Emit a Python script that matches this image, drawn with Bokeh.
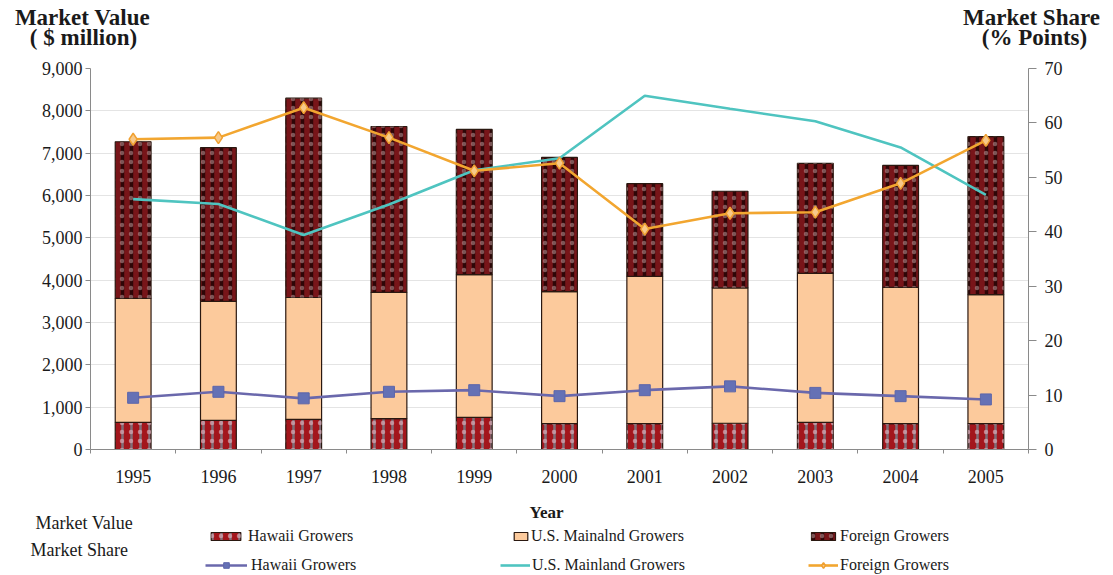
import numpy as np
from bokeh.plotting import figure
from bokeh.models import (Range1d, LinearAxis, FixedTicker, Label, Legend, LegendItem,
                          NumeralTickFormatter)
from bokeh.embed import file_html
from bokeh.resources import INLINE

# ---------------- data ----------------
years = ["1995", "1996", "1997", "1998", "1999", "2000", "2001", "2002", "2003", "2004", "2005"]
hawaii_value = [640, 690, 710, 730, 760, 610, 610, 620, 640, 610, 610]
mainland_value = [2930, 2810, 2880, 2980, 3370, 3120, 3480, 3200, 3520, 3220, 3050]
foreign_value = [3700, 3630, 4710, 3920, 3430, 3170, 2190, 2280, 2600, 2880, 3730]

hawaii_share = [9.5, 10.6, 9.4, 10.6, 10.9, 9.8, 10.9, 11.6, 10.4, 9.8, 9.2]
mainland_share = [46.0, 45.1, 39.4, 45.0, 51.3, 53.5, 65.0, 62.6, 60.3, 55.5, 46.8]
foreign_share = [57.0, 57.3, 62.8, 57.3, 51.2, 52.6, 40.5, 43.4, 43.6, 48.9, 56.8]

value_ticks = [0, 1000, 2000, 3000, 4000, 5000, 6000, 7000, 8000, 9000]
share_ticks = [0, 10, 20, 30, 40, 50, 60, 70]

# ---------------- derived ----------------
n = len(years)
xc = np.arange(n) + 0.5
b1 = np.zeros(n)
t1 = b1 + np.array(hawaii_value)
t2 = t1 + np.array(mainland_value)
t3 = t2 + np.array(foreign_value)

SERIF = "Liberation Serif"
TXT = "#1a1a1a"
TOTAL_W = 1105

# ---------------- styles ----------------
W = 0.42
OUT = "#2a1810"
haw_a = dict(fill_color="#a3161c", line_color=OUT, line_width=1.2,
             hatch_pattern="vertical_line", hatch_color="#7e6e78", hatch_scale=9, hatch_weight=2.5)
haw_b = dict(fill_alpha=0, line_color=None,
             hatch_pattern="dot", hatch_color="#d7a9b6", hatch_scale=9, hatch_weight=1.5, hatch_alpha=0.7)
main_s = dict(fill_color="#fcca9c", line_color=OUT, line_width=1.2)
for_a = dict(fill_color="#781519", line_color=OUT, line_width=1.2,
             hatch_pattern="vertical_line", hatch_color="#2e0607", hatch_scale=9, hatch_weight=3.5)
for_b = dict(fill_alpha=0, line_color=None,
             hatch_pattern="dot", hatch_color="#c9a3a6", hatch_scale=9, hatch_weight=1.5, hatch_alpha=0.5)
hl_s = dict(line_color="#6a68ac", line_width=2.6)
hm_s = dict(marker="square", size=11, fill_color="#6571b5", line_color="#5d66aa")
ml_s = dict(line_color="#4fc4c0", line_width=2.6)
fl_s = dict(line_color="#f2a630", line_width=2.6)
fm_s = dict(marker="diamond", size=12, fill_color="#f7c98a", line_color="#f0a030", line_width=1.5)


def strip(h):
    f = figure(width=TOTAL_W, height=h, output_backend="svg", toolbar_location=None,
               x_range=Range1d(0, TOTAL_W), y_range=Range1d(0, h),
               min_border=0, x_axis_type=None, y_axis_type=None)
    f.outline_line_color = None
    f.grid.visible = False
    return f


def lab(fig, text, x, y, size, bold=False, align="center"):
    fig.add_layout(Label(x=x, y=y, text=text, text_font=SERIF, text_font_size=size,
                         text_color=TXT, text_font_style="bold" if bold else "normal",
                         text_align=align, text_baseline="alphabetic"))

# ---------------- top strip (axis titles) ----------------
TOP_H = 58
pt = strip(TOP_H)
lab(pt, "Market Value", 82, 41, "23px", bold=True)
lab(pt, "( $ million)", 83, 21, "23px", bold=True)
lab(pt, "Market Share", 1031, 41, "23px", bold=True)
lab(pt, "(% Points)", 1034, 21, "23px", bold=True)

# ---------------- main chart ----------------
p = figure(frame_width=938, frame_height=381, output_backend="svg", toolbar_location=None,
           x_range=Range1d(0, n), y_range=Range1d(0, 9000),
           min_border_left=90, min_border_right=TOTAL_W - 90 - 938, min_border_top=10,
           min_border_bottom=30, background_fill_color="white", border_fill_color="white")
p.outline_line_color = None
p.extra_y_ranges = {"share": Range1d(0, 70)}

p.xgrid.grid_line_color = None
p.ygrid.ticker = FixedTicker(ticks=value_ticks)
p.ygrid.grid_line_color = "#e4e4e4"

p.vbar(x=xc, bottom=b1, top=t1, width=W, **haw_a)
p.vbar(x=xc, bottom=b1, top=t1, width=W, **haw_b)
p.vbar(x=xc, bottom=t1, top=t2, width=W, **main_s)
p.vbar(x=xc, bottom=t2, top=t3, width=W, **for_a)
p.vbar(x=xc, bottom=t2, top=t3, width=W, **for_b)

p.line(xc, hawaii_share, y_range_name="share", **hl_s)
p.scatter(xc, hawaii_share, y_range_name="share", **hm_s)
p.line(xc, mainland_share, y_range_name="share", **ml_s)
p.line(xc, foreign_share, y_range_name="share", **fl_s)
p.scatter(xc, foreign_share, y_range_name="share", **fm_s)

AX = "#8a8a8a"
p.yaxis.ticker = FixedTicker(ticks=value_ticks)
p.yaxis.formatter = NumeralTickFormatter(format="0,0")
p.yaxis.axis_line_color = AX
p.yaxis.major_tick_line_color = AX
p.yaxis.major_tick_out = 5
p.yaxis.major_tick_in = 0
p.yaxis.minor_tick_line_color = None
p.yaxis.major_label_text_font = SERIF
p.yaxis.major_label_text_font_size = "18px"
p.yaxis.major_label_text_color = TXT
p.yaxis.major_label_standoff = 3

ry = LinearAxis(y_range_name="share", ticker=FixedTicker(ticks=share_ticks))
ry.axis_line_color = AX
ry.major_tick_line_color = AX
ry.major_tick_out = 8
ry.major_tick_in = 0
ry.minor_tick_line_color = None
ry.major_label_text_font = SERIF
ry.major_label_text_font_size = "18px"
ry.major_label_text_color = TXT
ry.major_label_standoff = 8
p.add_layout(ry, "right")

p.xaxis.ticker = FixedTicker(ticks=list(xc), minor_ticks=list(range(n + 1)))
p.xaxis.major_label_overrides = {float(x): y for x, y in zip(xc, years)}
p.xaxis.axis_line_color = AX
p.xaxis.major_tick_line_color = None
p.xaxis.major_tick_out = 0
p.xaxis.minor_tick_line_color = AX
p.xaxis.minor_tick_out = 4
p.xaxis.minor_tick_in = 0
p.xaxis.major_label_text_font = SERIF
p.xaxis.major_label_text_font_size = "18px"
p.xaxis.major_label_text_color = TXT
p.xaxis.major_label_standoff = 16

# ---------------- bottom strip (x title + legend) ----------------
BOT_H = 94
pb = strip(BOT_H)
lab(pb, "Year", 546, 67, "17px", bold=True)
lab(pb, "Market Value", 35, 57, "18px", align="left")
lab(pb, "Market Share", 30, 30, "18px", align="left")

# legend swatch renderers: carry the styles only, hidden from the strip itself
def hid(r):
    r.visible = False
    return r

lr_h = [hid(pb.vbar(x=xc, bottom=b1, top=t1, width=W, **haw_a)),
        hid(pb.vbar(x=xc, bottom=b1, top=t1, width=W, **haw_b))]
lr_m = [hid(pb.vbar(x=xc, bottom=t1, top=t2, width=W, **main_s))]
lr_f = [hid(pb.vbar(x=xc, bottom=t2, top=t3, width=W, **for_a)),
        hid(pb.vbar(x=xc, bottom=t2, top=t3, width=W, **for_b))]
lr_hs = [hid(pb.line(xc, hawaii_share, **hl_s)), hid(pb.scatter(xc, hawaii_share, **hm_s))]
lr_ms = [hid(pb.line(xc, mainland_share, **ml_s))]
lr_fs = [hid(pb.line(xc, foreign_share, **fl_s)), hid(pb.scatter(xc, foreign_share, **fm_s))]


def leg(label, renderers, x, y, gw, gh, standoff=4):
    lg = Legend(items=[LegendItem(label=label, renderers=renderers)], location=(x, y),
                orientation="horizontal", padding=0, margin=0, spacing=0,
                border_line_color=None, background_fill_alpha=0,
                glyph_width=gw, glyph_height=gh, label_standoff=standoff,
                label_text_font=SERIF, label_text_font_size="16px", label_text_color=TXT,
                label_height=14, click_policy="none",
                inactive_fill_alpha=0)
    pb.add_layout(lg, "center")

leg("Hawaii Growers", lr_h, 207, 34, 37, 10)
leg("U.S. Mainalnd Growers", lr_m, 512, 34, 17, 10, 2)
leg("Foreign Growers", lr_f, 808, 34, 30, 10, 2)
leg("Hawaii Growers", lr_hs, 205, 5, 42, 14)
leg("U.S. Mainland Growers", lr_ms, 500, 5, 30, 14, 2)
leg("Foreign Growers", lr_fs, 808, 5, 30, 14, 2)

open("out.html", "w").write(file_html([pt, p, pb], INLINE))
